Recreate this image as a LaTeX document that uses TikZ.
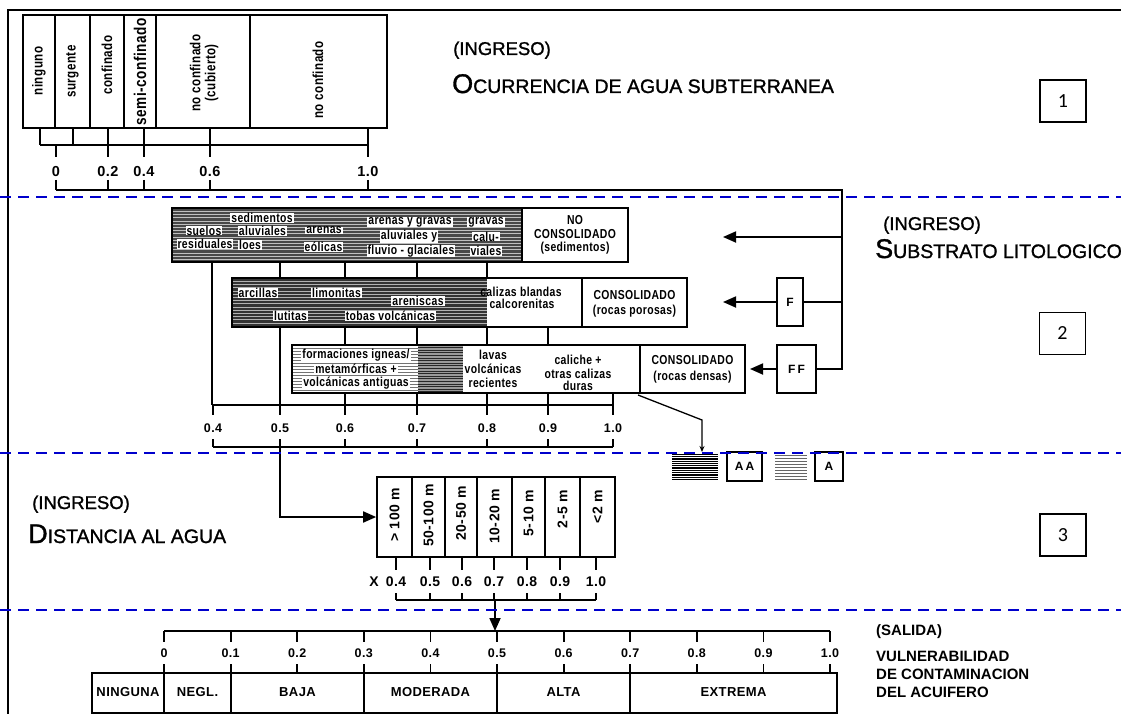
\documentclass[tikz,border=0pt]{standalone}
\usepackage{fontspec}
\setmainfont{Liberation Sans}
\newfontfamily\lab[LetterSpace=3, FakeStretch=0.8]{Liberation Sans}
\newfontfamily\labn[LetterSpace=3]{Liberation Sans}
\newfontfamily\ttlfont[FakeBold=1.2]{Liberation Sans}
\newfontfamily\numfont{Carlito}
\usetikzlibrary{arrows.meta}
\newcommand{\hatchrect}[7]{%
  \fill[#5] (#1,#2) rectangle (#3,#4);
  \pgfmathsetmacro{\hA}{#2+#7}%
  \pgfmathsetmacro{\hB}{#2+2*#7}%
  \pgfmathsetmacro{\hC}{#4-0.8}%
  \foreach \yy in {\hA,\hB,...,\hC} \draw[#6] (#1,\yy) -- (#3,\yy);%
}
\begin{document}
\begin{tikzpicture}[x=1pt,y=-1pt,
  ln/.style={line width=1.8pt},
  bx/.style={draw, line width=1.7pt, inner sep=0pt},
  sepline/.style={draw=blue!80!black, line width=1.4pt, dash pattern=on 11pt off 7pt},
  arr/.style={line width=1.8pt, -{Triangle[length=13pt,width=11pt]}},
  lb/.style={font=\lab\bfseries\fontsize{13}{13}\selectfont, inner xsep=1pt, inner ysep=0pt},
  wl/.style={lb, fill=white},
  rot/.style={rotate=90, font=\lab\bfseries\fontsize{14.5}{15}\selectfont, align=center, inner sep=0pt},
  rotd/.style={rotate=90, anchor=east, font=\labn\bfseries\fontsize{14}{14}\selectfont, inner sep=0pt},
  numa/.style={font=\labn\bfseries\fontsize{14.5}{14.5}\selectfont, inner sep=0pt},
  numb/.style={font=\labn\bfseries\fontsize{12.5}{12.5}\selectfont, inner sep=0pt},
  numc/.style={font=\labn\bfseries\fontsize{14}{14}\selectfont, inner sep=0pt},
  barl/.style={font=\labn\bfseries\fontsize{13}{13}\selectfont, inner sep=0pt},
  ttl/.style={anchor=base west, inner sep=0pt, text=black, font=\ttlfont},
  sal/.style={anchor=base west, inner sep=0pt, font=\bfseries\fontsize{15}{15}\selectfont},
  nbox/.style={draw, line width=1.3pt, minimum width=46pt, minimum height=42pt, inner sep=0pt, font=\numfont\fontsize{20}{20}\selectfont},
  leg/.style={bx, font=\labn\bfseries\fontsize{12}{12}\selectfont}
]
\useasboundingbox (0,0) rectangle (1121,714);
\fill[white] (0,0) rectangle (1121,714);
% frame
\draw[line width=1.6pt] (8,714) -- (8,10) -- (1121,10);

%% ---------- Section 1 ----------
\node[bx, minimum width=364pt, minimum height=113pt] (occ) at (205,71.5) {};
\foreach \xx in {55,90,124,156,250} \draw[ln] (\xx,15) -- (\xx,128);
\node[rot] (c1) at (39,71) {ninguno};
\node[rot] (c2) at (72.5,71.5) {surgente};
\node[rot] (c3) at (107,65) {confinado};
\node[rot, font=\lab\bfseries\fontsize{17}{17}\selectfont] (c4) at (140,72) {semi-confinado};
\node[rot] (c5) at (204,73) {no confinado\\(cubierto)};
\node[rot] (c6) at (318,80) {no confinado};
\foreach \xx in {40,73,108,144,210,368} \draw[ln] (\xx,128) -- (\xx,145);
\draw[ln] (40,145) -- (368,145);
\foreach \xx/\lbl in {56/0,108/0.2,144/0.4,210/0.6,368/1.0} {
  \draw[ln] (\xx,145) -- (\xx,157);
  \node[numa] at (\xx,172) {\lbl};
  \draw[ln] (\xx,180) -- (\xx,190);
}
\draw[ln] (56,190) -- (842,190) -- (842,370);

\node[ttl] (i1) at (453,55) {\fontsize{18.5}{19}\selectfont (INGRESO)};
\node[ttl] (t1) at (452,93) {{\fontsize{27}{27}\selectfont O}{\fontsize{19.5}{20}\selectfont CURRENCIA DE AGUA SUBTERRANEA}};
\node[nbox] (n1) at (1063,101) {1};

%% ---------- Section 2 ----------
\hatchrect{172}{208}{522}{262}{black!72}{white!75!black,line width=0.6pt}{3.2}
\node[bx, minimum width=456pt, minimum height=54pt] (row1) at (400,235) {};
\draw[ln] (522,208) -- (522,262);

\hatchrect{232}{278}{487}{327}{black!80}{white!70!black,line width=0.6pt}{3.2}
\node[bx, minimum width=455pt, minimum height=49pt] (row2) at (459.5,302.5) {};
\draw[ln] (582,278) -- (582,327);

\hatchrect{292}{345}{418}{393}{white}{black!55,line width=0.7pt}{3}
\hatchrect{418}{345}{463}{393}{black!40}{black!85,line width=0.8pt}{2.6}
\node[bx, minimum width=453pt, minimum height=48pt] (row3) at (518.5,369) {};
\draw[ln] (640,345) -- (640,393);

% row 1 texts
\node[wl] at (204,230.5) {suelos};
\node[wl] at (205,244) {residuales};
\node[wl] at (262,218) {sedimentos};
\node[wl] at (262.5,231) {aluviales};
\node[wl] at (250,245) {loes};
\node[wl] at (324,230.5) {arenas};
\node[wl] at (323.5,247) {eólicas};
\node[wl] at (410,222) {arenas y gravas};
\node[wl] at (409,236.5) {aluviales y};
\node[wl] at (411,251) {fluvio - glaciales};
\node[wl] at (486,222) {gravas};
\node[wl] at (486,236.5) {calu-};
\node[wl] at (486,251) {viales};
\node[lb] at (575,220) {NO};
\node[lb] at (575,234) {CONSOLIDADO};
\node[lb] at (575,248) {(sedimentos)};
% row 2 texts
\node[wl] at (258,293) {arcillas};
\node[wl] at (336.5,293) {limonitas};
\node[wl] at (418,301) {areniscas};
\node[wl] at (290.5,316) {lutitas};
\node[wl] at (390.5,316) {tobas volcánicas};
\node[lb] at (521,291.5) {calizas blandas};
\node[lb] at (522,304) {calcorenitas};
\node[lb] at (634.5,295) {CONSOLIDADO};
\node[lb] at (634.5,311) {(rocas porosas)};
% row 3 texts
\node[wl] at (356,355) {formaciones igneas/};
\node[wl] at (356,369) {metamórficas +};
\node[wl] at (356,383) {volcánicas antiguas};
\node[wl] at (493,355) {lavas};
\node[wl] at (493,369) {volcánicas};
\node[wl] at (493,383) {recientes};
\node[lb] at (578,360) {caliche +};
\node[lb] at (578,373.5) {otras calizas};
\node[lb] at (578,386) {duras};
\node[lb] at (692.5,360) {CONSOLIDADO};
\node[lb] at (692.5,377) {(rocas densas)};

% connectors between rows
\draw[ln] (212,262) -- (212,405);
\foreach \xx in {280,345,417,487} \draw[ln] (\xx,262) -- (\xx,278);
\draw[ln] (280,327) -- (280,405);
\foreach \xx in {345,417,487,548} \draw[ln] (\xx,327) -- (\xx,345);
\foreach \xx in {345,417,487,548,613} \draw[ln] (\xx,393) -- (\xx,405);
\draw[ln] (212,405) -- (613,405);
\foreach \xx/\lbl in {213/0.4,280/0.5,345/0.6,417/0.7,487/0.8,548/0.9,613/1.0} {
  \draw[ln] (\xx,405) -- (\xx,415);
  \node[numb] at (\xx,428) {\lbl};
  \draw[ln] (\xx,439) -- (\xx,447);
}
\draw[ln] (213,447) -- (613,447);

% arrows from the right
\coordinate (tip1) at (723,237);
\draw[arr] (842,237) -- (tip1);
\node[bx, minimum width=26pt, minimum height=48pt, font=\labn\bfseries\fontsize{12}{12}\selectfont] (F) at (790,302) {F};
\draw[ln] (842,302) -- (F.east);
\coordinate (tip2) at (723,302);
\draw[arr] (F.west) -- (tip2);
\node[bx, minimum width=39pt, minimum height=48pt, font=\labn\bfseries\fontsize{12}{12}\selectfont] (FF) at (796.5,369) {F\,F};
\draw[ln] (842,369) -- (FF.east);
\coordinate (tip3) at (750,369);
\draw[arr] (FF.west) -- (tip3);

\node[ttl] (i2) at (883,230) {\fontsize{18.5}{19}\selectfont (INGRESO)};
\node[ttl] (t2) at (875,258) {{\fontsize{27}{27}\selectfont S}{\fontsize{19.5}{20}\selectfont UBSTRATO LITOLOGICO}};
\node[nbox] (n2) at (1062.5,333.5) {2};

% legend
\hatchrect{672}{452}{718}{481}{white}{black,line width=1.3pt}{2.3}
\node[minimum width=46pt, minimum height=29pt, inner sep=0pt] (hd) at (695,466.5) {};
\node[leg, minimum width=35pt, minimum height=29pt] (AA) at (744.5,466.5) {A\,A};
\hatchrect{775}{452}{807}{481}{white}{black!60,line width=1pt}{3}
\node[minimum width=32pt, minimum height=29pt, inner sep=0pt] (hl) at (791,466.5) {};
\node[leg, minimum width=28pt, minimum height=29pt] (A) at (829,466.5) {A};
\coordinate (pt1) at (638,395);
\coordinate (pt2) at (702,420);
\draw[line width=1.3pt, -{Stealth[length=6pt,width=5pt]}] (pt1) -- (pt2) -- (702,452);

%% ---------- Section 3 ----------
\node[bx, minimum width=238pt, minimum height=80pt] (s3) at (496,517) {};
\draw[arr] (280,447) |- (s3.west);
\foreach \xx in {412,445,477,512,545,580} \draw[ln] (\xx,477) -- (\xx,557);
\node[rotd] at (394.5,488) {> 100 m};
\node[rotd] at (428.5,484) {50-100 m};
\node[rotd] at (461,486) {20-50 m};
\node[rotd] at (494.5,489) {10-20 m};
\node[rotd] at (528.5,490) {5-10 m};
\node[rotd] at (562.5,490) {2-5 m};
\node[rotd] at (597.5,490) {<2 m};
\node[numc] at (374,582) {X};
\foreach \xx/\lbl in {396/0.4,430/0.5,462/0.6,494/0.7,527/0.8,560/0.9,596/1.0} {
  \draw[ln] (\xx,557) -- (\xx,570);
  \node[numc] at (\xx,582) {\lbl};
  \draw[ln] (\xx,593) -- (\xx,600);
}
\draw[ln] (396,600) -- (596,600);
\coordinate (out5) at (495,631);
\draw[arr] (495,600) -- (out5);

\node[ttl] (i3) at (32,509) {\fontsize{18.5}{19}\selectfont (INGRESO)};
\node[ttl] (t3) at (28,543) {{\fontsize{27}{27}\selectfont D}{\fontsize{19.5}{20}\selectfont ISTANCIA AL AGUA}};
\node[nbox] (n3) at (1063,535) {3};

%% ---------- Output ----------
\draw[ln] (164,631) -- (830,631);
\foreach \k/\lbl in {0/0,1/0.1,2/0.2,3/0.3,4/0.4,5/0.5,6/0.6,7/0.7,8/0.8,9/0.9,10/1.0} {
  \pgfmathsetmacro{\xx}{164+66.6*\k}
  \draw[ln] (\xx,631) -- (\xx,642);
  \node[numb] at (\xx,653) {\lbl};
  \draw[ln] (\xx,664) -- (\xx,673);
}
\node[bx, minimum width=745pt, minimum height=40pt] (bar) at (464.5,693) {};
\foreach \xx in {164,231,364,497,630} \draw[ln] (\xx,673) -- (\xx,714);
\node[barl] at (128,692) {NINGUNA};
\node[barl] at (197.5,692) {NEGL.};
\node[barl] at (297.5,692) {BAJA};
\node[barl] at (430.5,692) {MODERADA};
\node[barl] at (563.5,692) {ALTA};
\node[barl] at (733.5,692) {EXTREMA};

\node[sal] (s1) at (876,635) {(SALIDA)};
\node[sal] (s2) at (876,661) {VULNERABILIDAD};
\node[sal] (s3t) at (876,679) {DE CONTAMINACION};
\node[sal] (s4) at (876,697) {DEL ACUIFERO};

%% separators
\foreach \yy in {197,453,610} \draw[sepline] (0,\yy) -- (1121,\yy);
\end{tikzpicture}
\end{document}
